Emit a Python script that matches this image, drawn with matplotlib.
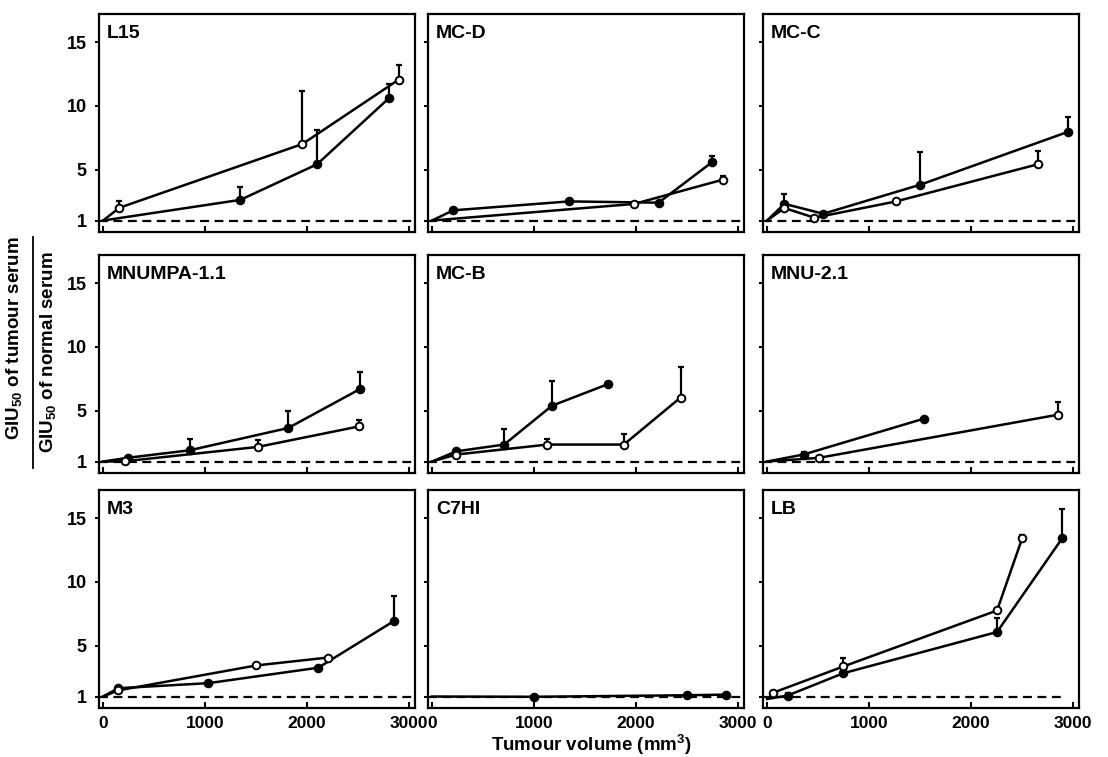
import numpy as np
import matplotlib
matplotlib.use('Agg')
import matplotlib.pyplot as plt
from matplotlib.lines import Line2D

plt.rcParams['font.family'] = ['Liberation Sans', 'DejaVu Sans']
plt.rcParams['font.weight'] = 'bold'
plt.rcParams['mathtext.fontset'] = 'custom'
plt.rcParams['mathtext.rm'] = 'Liberation Sans:bold'
plt.rcParams['mathtext.bf'] = 'Liberation Sans:bold'

# panels, row by row
names = ['L15', 'MC-D', 'MC-C', 'MNUMPA-1.1', 'MC-B', 'MNU-2.1', 'M3', 'C7HI', 'LB']

# filled circles (x = tumour volume mm3, y = ratio, upper error)
filled_x = [[0, 1346, 2099, 2805],
            [0, 207, 1343, 2222, 2750],
            [0, 170, 551, 1503, 2950],
            [0, 240, 848, 1816, 2524],
            [0, 238, 707, 1177, 1725],
            [0, 358, 1538],
            [0, 148, 1034, 2111, 2857],
            [0, 1000, 2497, 2880],
            [0, 202, 749, 2256, 2894]]
filled_y = [[1, 2.62, 5.41, 10.6],
            [1, 1.8, 2.5, 2.4, 5.6],
            [1, 2.31, 1.53, 3.81, 7.95],
            [1, 1.29, 1.88, 3.63, 6.7],
            [1, 1.8, 2.33, 5.38, 7.07],
            [1, 1.55, 4.36],
            [1, 1.65, 2.05, 3.26, 6.94],
            [1, 0.98, 1.1, 1.15],
            [0.8, 1.08, 2.83, 6.06, 13.4]]
filled_err = [[0, 1.0, 2.7, 1.1],
              [0, 0, 0, 0, 0.45],
              [0, 0.8, 0, 2.6, 1.15],
              [0, 0, 0.85, 1.3, 1.35],
              [0, 0.2, 1.2, 1.95, 0],
              [0, 0.2, 0],
              [0, 0, 0, 0, 1.95],
              [0, 0, 0, 0.15],
              [0, 0.22, 0, 1.07, 2.3]]

# open circles
open_x = [[0, 160, 1955, 2900],
          [0, 1981, 2850],
          [0, 170, 465, 1266, 2655],
          [0, 212, 1521, 2514],
          [0, 238, 1130, 1881, 2438],
          [0, 509, 2852],
          [0, 148, 1504, 2210],
          [],
          [60, 749, 2256, 2502]]
open_y = [[1, 2.0, 7.0, 12.05],
          [1, 2.3, 4.2],
          [1, 1.98, 1.22, 2.5, 5.41],
          [1, 1.02, 2.15, 3.76],
          [1, 1.55, 2.33, 2.33, 6.02],
          [1, 1.29, 4.67],
          [1, 1.48, 3.44, 4.06],
          [],
          [1.3, 3.36, 7.75, 13.4]]
open_err = [[0, 0.55, 4.15, 1.15],
            [0, 0, 0.3],
            [0, 0, 0, 0, 1.05],
            [0, 0, 0.5, 0.5],
            [0, 0, 0.4, 0.8, 2.4],
            [0, 0, 1.0],
            [0, 0, 0, 0],
            [],
            [0.1, 0.68, 0, 0.26]]

dash_end = [3100, 3100, 3100, 3100, 3100, 3100, 3100, 3100, 2900]

W, H = 1108, 757
fig = plt.figure(figsize=(W / 100, H / 100), dpi=100)

col_left = [99, 428, 763]
col_w = 316
row_top = [14, 255, 490]
row_h = 218


def draw(ax, x, y, err, face):
    x = np.array(x, float)
    y = np.array(y, float)
    err = np.array(err, float)
    if len(x) == 0:
        return
    m = err > 0
    if m.any():
        ax.errorbar(x[m], y[m], yerr=[np.zeros(m.sum()), err[m]], fmt='none',
                    ecolor='black', elinewidth=1.6, capsize=2.5, capthick=1.6,
                    zorder=2)
    marks = [i for i, v in enumerate(x) if v > 0]
    ax.plot(x, y, color='black', lw=1.8, marker='o', markersize=5.5,
            markerfacecolor=face, markeredgecolor='black', markeredgewidth=1.4,
            markevery=marks, zorder=3, clip_on=False)


for i, name in enumerate(names):
    r, c = divmod(i, 3)
    ax = fig.add_axes([col_left[c] / W, 1 - (row_top[r] + row_h) / H,
                       col_w / W, row_h / H])
    ax.set_xlim(-40, 3060)
    ax.set_ylim(0.1, 17.2)
    ax.set_yticks([1, 5, 10, 15])
    ax.set_xticks([0, 1000, 2000, 3000])
    ax.tick_params(axis='x', direction='in', length=4, width=1.5,
                   labelsize=12.5, pad=6)
    ax.tick_params(axis='y', direction='out', length=3, width=1.5, labelsize=13,
                   pad=6)
    if c != 0:
        ax.set_yticklabels([])
    if r != 2:
        ax.set_xticklabels([])
    for s in ax.spines.values():
        s.set_linewidth(1.6)

    ax.hlines(1, -40, dash_end[i], colors='black', linestyles=(0, (4, 2.5)),
              lw=1.6, zorder=1)
    draw(ax, filled_x[i], filled_y[i], filled_err[i], 'black')
    draw(ax, open_x[i], open_y[i], open_err[i], 'white')
    ax.text(0.025, 0.95, name, transform=ax.transAxes, ha='left', va='top',
            fontsize=14, fontweight='bold')

fig.text(591 / W, 1 - 745 / H, 'Tumour volume (mm$^3$)', ha='center',
         va='center', fontsize=13.5, fontweight='bold')

# y label written as a fraction
fig.text(15 / W, 1 - 338 / H, r'GIU$_{50}$ of tumour serum', rotation=90,
         ha='center', va='center', fontsize=13.5, fontweight='bold')
fig.text(49 / W, 1 - 352 / H, r'GIU$_{50}$ of normal serum', rotation=90,
         ha='center', va='center', fontsize=13.5, fontweight='bold')
fig.add_artist(Line2D([33 / W, 33 / W], [1 - 237 / H, 1 - 468 / H],
                      transform=fig.transFigure, color='black', lw=1.3))

fig.savefig('out.png', dpi=100)
